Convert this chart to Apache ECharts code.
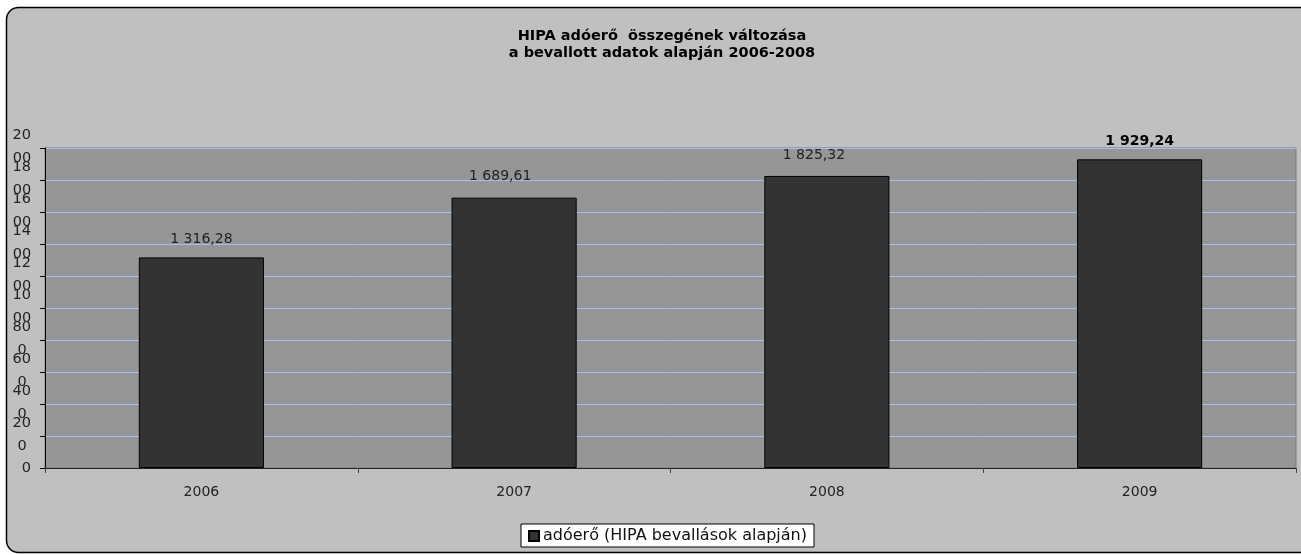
<!DOCTYPE html>
<html>
<head>
<meta charset="utf-8">
<script src="https://cdn.jsdelivr.net/npm/echarts@6/dist/echarts.min.js"></script>
<style>
html,body{margin:0;padding:0;background:#fff;}
#c{width:1301px;height:555px;}
</style>
</head>
<body>
<div id="c"></div>
<script>
var categories = ['2006', '2007', '2008', '2009'];
var values = [1316.28, 1689.61, 1825.32, 1929.24];
var seriesName = 'adóerő (HIPA bevallások alapján)';
var titleText = 'HIPA adóerő  összegének változása\na bevallott adatok alapján 2006-2008';
var yMin = 0, yMax = 2000, yStep = 200;

var FONT = '"DejaVu Sans", sans-serif';
// label nudges as placed in the original (styling only)
var labelNudge = [[0, 0], [-14, -3], [-13, -3], [0, 0]];

function fmt(v) {
  var s = v.toFixed(2).split('.');
  var ip = s[0].replace(/\B(?=(\d{3})+(?!\d))/g, ' ');
  return ip + ',' + s[1];
}

var chart = echarts.init(document.getElementById('c'), null, {renderer: 'canvas'});

var labelBase = {fontFamily: FONT, fontSize: 14.5, color: '#222', showMinLabel: true, showMaxLabel: true};

function yAxisBase(extra) {
  var a = {
    type: 'value', min: yMin, max: yMax, interval: yStep, position: 'left',
    axisLine: {show: false}, axisTick: {show: false}, splitLine: {show: false}
  };
  for (var k in extra) a[k] = extra[k];
  return a;
}

var option = {
  backgroundColor: '#ffffff',
  animation: false,
  graphic: [{
    type: 'rect',
    z: -10,
    silent: true,
    shape: {x: 6.5, y: 7.5, width: 1310, height: 545, r: 12},
    style: {fill: '#c0c0c0', stroke: '#000000', lineWidth: 1.5}
  }],
  title: {
    text: titleText,
    left: 657,
    top: 23,
    textAlign: 'center',
    textStyle: {fontFamily: FONT, fontSize: 14.5, fontWeight: 'bold', color: '#000', lineHeight: 17}
  },
  legend: {
    data: [seriesName],
    left: 521,
    top: 524,
    padding: [4, 7, 3, 7],
    backgroundColor: '#ffffff',
    borderColor: '#000000',
    borderWidth: 1,
    itemWidth: 10,
    itemHeight: 10,
    itemGap: 5,
    icon: 'rect',
    textStyle: {fontFamily: FONT, fontSize: 16, color: '#111', padding: [0, 0, 0, -1]}
  },
  grid: {
    left: 45,
    right: 5,
    top: 148,
    bottom: 87,
    show: true,
    backgroundColor: '#969696',
    borderWidth: 1,
    borderColor: '#7a7a7a'
  },
  xAxis: {
    type: 'category',
    data: categories,
    axisLine: {show: true, lineStyle: {color: '#222', width: 1}},
    axisTick: {show: true, alignWithLabel: false, length: 5, lineStyle: {color: '#444'}},
    axisLabel: {fontFamily: FONT, fontSize: 14, color: '#222', margin: 17}
  },
  yAxis: [
    // main axis: line, ticks, grid lines, and first line of wrapped labels
    yAxisBase({
      axisLine: {show: true, lineStyle: {color: '#000', width: 1}},
      axisTick: {show: true, length: 5, lineStyle: {color: '#000'}},
      splitLine: {show: true, lineStyle: {color: '#9cc3ee', width: 1}},
      axisLabel: Object.assign({}, labelBase, {
        margin: 14, align: 'right', verticalAlign: 'bottom', lineHeight: 26,
        formatter: function (v) { var s = String(v); return s.length <= 2 ? '' : s.slice(0, 2); }
      })
    }),
    // second line of wrapped labels
    yAxisBase({
      axisLabel: Object.assign({}, labelBase, {
        margin: 23, align: 'center', verticalAlign: 'top', lineHeight: 20,
        formatter: function (v) { var s = String(v); return s.length <= 2 ? '' : s.slice(2); }
      })
    }),
    // unwrapped short labels
    yAxisBase({
      axisLabel: Object.assign({}, labelBase, {
        margin: 14, align: 'right', verticalAlign: 'middle',
        formatter: function (v) { var s = String(v); return s.length <= 2 ? s : ''; }
      })
    })
  ],
  series: [{
    name: seriesName,
    type: 'bar',
    yAxisIndex: 0,
    barWidth: '40%',
    itemStyle: {color: '#333333', borderColor: '#000000', borderWidth: 1},
    label: {
      show: true,
      position: 'top',
      distance: 11,
      fontFamily: FONT,
      fontSize: 14,
      color: '#222',
      formatter: function (p) { return fmt(p.value); }
    },
    data: values.map(function (v, i) {
      var d = {value: v, label: {offset: labelNudge[i]}};
      if (i === values.length - 1) { d.label.fontWeight = 'bold'; d.label.color = '#000'; }
      return d;
    })
  }]
};
chart.setOption(option);
</script>
</body>
</html>
